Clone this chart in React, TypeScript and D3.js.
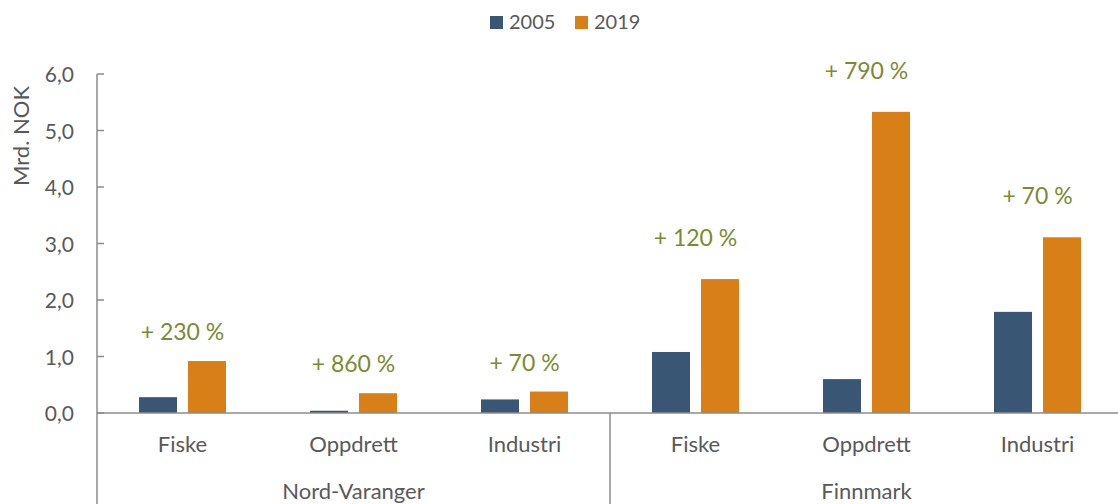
import React from "react";
import * as d3 from "d3";

const groups = ["Nord-Varanger", "Finnmark"];
const categories = ["Fiske", "Oppdrett", "Industri", "Fiske", "Oppdrett", "Industri"];
const categoryGroup = [0, 0, 0, 1, 1, 1];
const series = ["2005", "2019"];
const values2005 = [0.28, 0.04, 0.24, 1.08, 0.6, 1.79];
const values2019 = [0.92, 0.35, 0.38, 2.37, 5.33, 3.11];
const changeLabels = ["+ 230 %", "+ 860 %", "+ 70 %", "+ 120 %", "+ 790 %", "+ 70 %"];
const yTicks = [0, 1, 2, 3, 4, 5, 6];

const W = 1118;
const H = 504;
const FONT = "Lato, 'Open Sans', sans-serif";
const GREY = "#595959";
const AXIS = "#8c8c8c";
const COLORS = ["#3a5675", "#d97f17"];
const GREEN = "#7b8b32";

export default function App() {
  const left = 97;
  const right = 1123;
  const y = d3.scaleLinear().domain([0, 6]).range([413, 74]);
  const idx = categories.map((_, i) => i);
  const x = d3.scaleBand<number>().domain(idx).range([left, right]).padding(0);
  const bw = x.bandwidth();
  const sub = d3
    .scaleBand<string>()
    .domain(series)
    .range([bw / 2 - 43.5, bw / 2 + 43.5])
    .paddingInner(11 / 49)
    .paddingOuter(0);
  const seriesValues = [values2005, values2019];
  const groupOffsets = [21, 33];
  const baseY = y(0);

  return (
    <div style={{ position: "absolute", left: 0, top: 0 }}>
      <svg width={W} height={H} style={{ display: "block", fontFamily: FONT }}>
        <rect width={W} height={H} fill="#fff" />
        {/* legend */}
        <g>
          <rect x={490} y={16} width={13} height={13} fill={COLORS[0]} />
          <text x={509} y={29} fontSize={20} fill={GREY}>{series[0]}</text>
          <rect x={575} y={16} width={13} height={13} fill={COLORS[1]} />
          <text x={594} y={29} fontSize={20} fill={GREY}>{series[1]}</text>
        </g>
        {/* y axis title */}
        <text
          transform={`translate(29,136) rotate(-90)`}
          textAnchor="middle"
          fontSize={22}
          fill={GREY}
        >
          Mrd. NOK
        </text>
        {/* bars */}
        {seriesValues.map((vals, si) =>
          vals.map((v, i) => (
            <rect
              key={`${si}-${i}`}
              x={(x(i) as number) + (sub(series[si]) as number)}
              y={y(v)}
              width={sub.bandwidth()}
              height={baseY - y(v)}
              fill={COLORS[si]}
            />
          ))
        )}
        {/* y ticks */}
        {yTicks.map((t) => (
          <g key={t}>
            <line x1={left} x2={left + 7} y1={y(t)} y2={y(t)} stroke={AXIS} strokeWidth={1.5} />
            <text x={74} y={y(t) + 8} textAnchor="end" fontSize={21} fill={GREY}>
              {d3.format(".1f")(t).replace(".", ",")}
            </text>
          </g>
        ))}
        {/* axes */}
        <line x1={left} x2={left} y1={y(6)} y2={H} stroke={AXIS} strokeWidth={1.5} />
        <line x1={left} x2={W} y1={baseY} y2={baseY} stroke={AXIS} strokeWidth={1.5} />
        <line
          x1={x(3) as number}
          x2={x(3) as number}
          y1={baseY}
          y2={H}
          stroke={AXIS}
          strokeWidth={1.5}
        />
        {/* category labels */}
        {categories.map((c, i) => (
          <text
            key={`c${i}`}
            x={(x(i) as number) + bw / 2}
            y={452}
            textAnchor="middle"
            fontSize={22}
            fill={GREY}
          >
            {c}
          </text>
        ))}
        {/* group labels */}
        {groups.map((g, gi) => {
          const members = idx.filter((i) => categoryGroup[i] === gi);
          const x0 = x(members[0]) as number;
          const x1 = (x(members[members.length - 1]) as number) + bw;
          return (
            <text key={g} x={(x0 + x1) / 2} y={499} textAnchor="middle" fontSize={22} fill={GREY}>
              {g}
            </text>
          );
        })}
        {/* change labels */}
        {changeLabels.map((l, i) => (
          <text
            key={`l${i}`}
            x={(x(i) as number) + bw / 2}
            y={y(values2019[i]) - groupOffsets[categoryGroup[i]]}
            textAnchor="middle"
            fontSize={23}
            fill={GREEN}
          >
            {l}
          </text>
        ))}
      </svg>
    </div>
  );
}
